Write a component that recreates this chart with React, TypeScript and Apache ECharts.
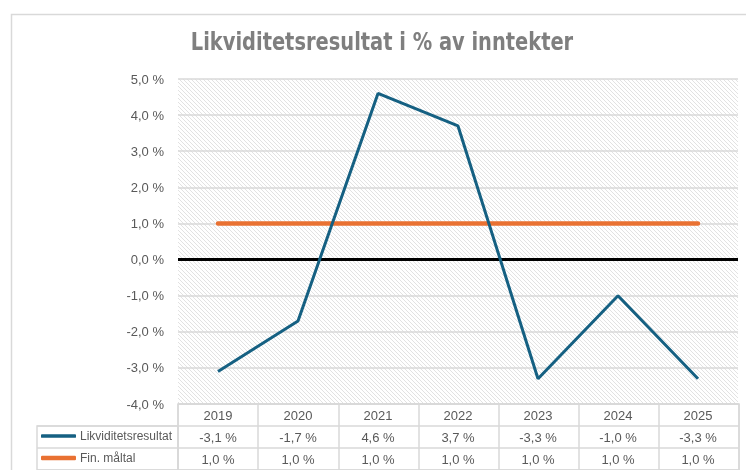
import React, { useEffect, useRef } from "react";
import * as echarts from "echarts";

const TITLE = "Likviditetsresultat i % av inntekter";
const categories = ["2019", "2020", "2021", "2022", "2023", "2024", "2025"];
const seriesNames = ["Likviditetsresultat", "Fin. måltal"];
const likviditet = [-3.1, -1.7, 4.6, 3.7, -3.3, -1.0, -3.3];
const finMaltal = [1.0, 1.0, 1.0, 1.0, 1.0, 1.0, 1.0];
const yMin = -4;
const yMax = 5;
const yInterval = 1;

const BLUE = "#156082";
const ORANGE = "#E97132";
const TXT = "#595959";
const BORDER = "#d9d9d9";
const FONT = "'Liberation Sans', Arial, sans-serif";

const fmt = (v: number) => v.toFixed(1).replace(".", ",") + " %";

function makeHatch() {
  const c = document.createElement("canvas");
  c.width = 4;
  c.height = 4;
  const ctx = c.getContext("2d")!;
  ctx.fillStyle = "#ffffff";
  ctx.fillRect(0, 0, 4, 4);
  ctx.fillStyle = "#e2e2e2";
  for (let i = 0; i < 4; i++) ctx.fillRect(i, i, 1, 1);
  return c;
}

export default function App() {
  const ref = useRef<HTMLDivElement>(null);
  useEffect(() => {
    const chart = echarts.init(ref.current!, undefined, { renderer: "svg" });
    const hatch = makeHatch();
    const tableAxis = (vals: number[], offset: number) => ({
      type: "category",
      gridIndex: 0,
      data: categories,
      position: "bottom",
      offset,
      axisLine: { show: false },
      axisTick: { show: false },
      axisLabel: {
        color: TXT,
        fontSize: 13,
        fontFamily: FONT,
        margin: 5,
        interval: 0,
        formatter: (_v: string, i: number) => fmt(vals[i]),
      },
    });
    const legendItem = (name: string, top: number, h: number) => ({
      data: [name],
      orient: "horizontal",
      left: 41,
      top,
      padding: 0,
      itemWidth: 35,
      itemHeight: h,
      itemGap: 4,
      icon: "roundRect",
      selectedMode: false,
      textStyle: { color: TXT, fontSize: 12, fontFamily: FONT, padding: [0, 0, 0, -1] },
    });
    chart.setOption({
      animation: false,
      textStyle: { fontFamily: FONT },
      graphic: [
        {
          type: "rect",
          left: 9,
          top: 12,
          shape: { width: 760, height: 480 },
          style: { fill: "none", stroke: BORDER, lineWidth: 1.5 },
          silent: true,
          z: -10,
        },
        {
          type: "text",
          x: 382,
          y: 30,
          scaleX: 0.9,
          style: {
            text: TITLE,
            fill: "#7f7f7f",
            fontSize: 24,
            fontWeight: "bold",
            fontFamily: "'DejaVu Sans Condensed', 'Liberation Sans', sans-serif",
            textAlign: "center",
            textVerticalAlign: "top",
          },
        },
      ],
      legend: [legendItem(seriesNames[0], 430, 3.5), legendItem(seriesNames[1], 452, 4.5)],
      grid: [
        {
          left: 178,
          right: 8,
          top: 79,
          height: 325,
          show: true,
          backgroundColor: { image: hatch, repeat: "repeat" },
          borderWidth: 0,
        },
        {
          left: 178,
          right: 7,
          top: 404,
          height: 66,
          show: true,
          backgroundColor: "transparent",
          borderColor: BORDER,
          borderWidth: 1.5,
        },
        {
          left: 37,
          width: 141,
          top: 426,
          height: 44,
          show: true,
          backgroundColor: "transparent",
          borderColor: BORDER,
          borderWidth: 1.5,
        },
      ],
      xAxis: [
        {
          type: "category",
          gridIndex: 0,
          data: categories,
          position: "bottom",
          axisLine: { show: false },
          axisTick: { show: false },
          axisLabel: { color: TXT, fontSize: 13, fontFamily: FONT, margin: 5, interval: 0 },
        },
        tableAxis(likviditet, 22),
        tableAxis(finMaltal, 44),
        {
          type: "category",
          gridIndex: 1,
          data: categories,
          axisLine: { show: false },
          axisTick: { show: false },
          axisLabel: { show: false },
          splitLine: { show: true, interval: 0, lineStyle: { color: BORDER, width: 1.5 } },
        },
        {
          type: "value",
          gridIndex: 2,
          show: false,
        },
      ],
      yAxis: [
        {
          type: "value",
          gridIndex: 0,
          min: yMin,
          max: yMax,
          interval: yInterval,
          axisLine: { show: false },
          axisTick: { show: false },
          axisLabel: { color: TXT, fontSize: 13, fontFamily: FONT, margin: 14, formatter: (v: number) => fmt(v) },
          splitLine: { show: true, lineStyle: { color: BORDER, width: 1.5 } },
        },
        {
          type: "value",
          gridIndex: 1,
          min: 0,
          max: 3,
          interval: 1,
          axisLine: { show: false },
          axisTick: { show: false },
          axisLabel: { show: false },
          splitLine: { show: true, lineStyle: { color: BORDER, width: 1.5 } },
        },
        {
          type: "value",
          gridIndex: 2,
          min: 0,
          max: 2,
          interval: 1,
          axisLine: { show: false },
          axisTick: { show: false },
          axisLabel: { show: false },
          splitLine: { show: true, lineStyle: { color: BORDER, width: 1.5 } },
        },
      ],
      series: [
        {
          name: seriesNames[0],
          type: "line",
          xAxisIndex: 0,
          yAxisIndex: 0,
          data: likviditet,
          symbol: "none",
          color: BLUE,
          lineStyle: { color: BLUE, width: 3 },
          z: 4,
          markLine: {
            silent: true,
            symbol: "none",
            label: { show: false },
            lineStyle: { color: "#000000", width: 3, type: "solid" },
            data: [{ yAxis: 0 }],
            z: 2,
          },
        },
        {
          name: seriesNames[1],
          type: "line",
          xAxisIndex: 0,
          yAxisIndex: 0,
          data: finMaltal,
          symbol: "none",
          color: ORANGE,
          lineStyle: { color: ORANGE, width: 4.5, cap: "round" },
          z: 3,
        },
      ],
    });
    return () => chart.dispose();
  }, []);
  return <div ref={ref} style={{ position: "fixed", left: 0, top: 0, width: 746, height: 470 }} />;
}
